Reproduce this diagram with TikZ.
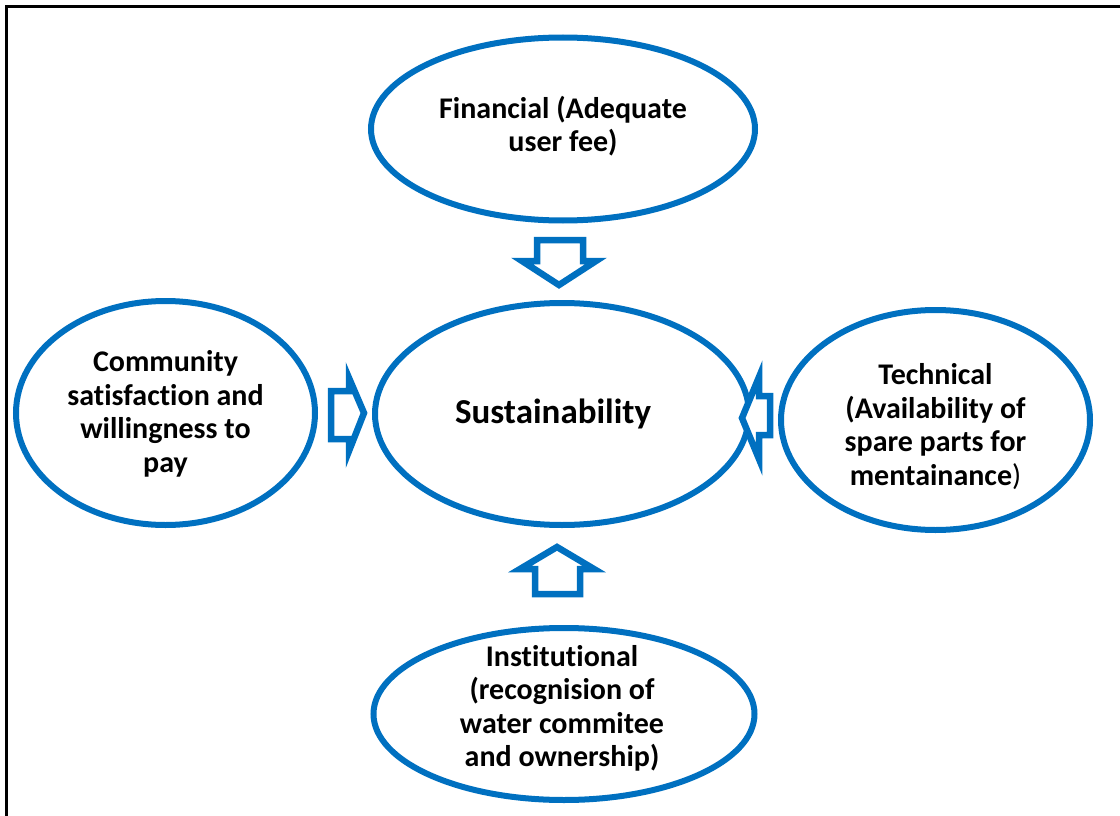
\documentclass[tikz,border=0pt]{standalone}
\usepackage{fontspec}
\setmainfont[Ligatures={NoCommon}]{Carlito}
\usetikzlibrary{shapes.geometric}
\definecolor{ppblue}{RGB}{0,112,192}

\begin{document}
\begin{tikzpicture}[x=1pt,y=-1pt,
    factor/.style={ellipse,draw=ppblue,line width=6pt,inner sep=0pt},
    factortext/.style={align=center,font=\bfseries\fontsize{30}{33.5}\selectfont},
    blockarrow/.style={draw=ppblue,fill=white,line width=6.5pt,line join=miter}]
  \useasboundingbox (0,0) rectangle (1120,816);
  \draw[line width=3pt] (6.5,816) -- (6.5,6.5) -- (1120,6.5);

  % the five ellipses
  \node[factor,minimum width=384pt,minimum height=183pt] (Fin)  at (563,129)   {};
  \node[factor,minimum width=299pt,minimum height=224pt] (Comm) at (165.5,413) {};
  \node[factor,minimum width=374pt,minimum height=222pt] (Sus)  at (562,414)   {};
  \node[factor,minimum width=309pt,minimum height=220pt] (Tech) at (935.5,420) {};
  \node[factor,minimum width=381pt,minimum height=172pt] (Inst) at (564,714)   {};

  \node[factortext,yshift=3pt] at (Fin) {Financial (Adequate\\user fee)};
  \node[factortext,yshift=-1pt] at (Comm) {Community\\satisfaction and\\willingness to\\pay};
  \node[factortext,xshift=-9pt,font=\bfseries\fontsize{35}{40}\selectfont] at (Sus) {Sustainability};
  \node[factortext,yshift=-6.5pt] at (Tech) {Technical\\(Availability of\\spare parts for\\mentainance{\mdseries)}};
  \node[factortext,xshift=-2pt,yshift=5.5pt] at (Inst) {Institutional\\(recognision of\\water commitee\\and ownership)};

  % block arrows into Sustainability
  \draw[blockarrow] (537,240) -- (583,240) -- (583,261) -- (596,261) -- (559,285)
    -- (522,261) -- (537,261) -- cycle;
  \draw[blockarrow] (535,594) -- (580,594) -- (580,569) -- (594,569) -- (557,547)
    -- (520,569) -- (535,569) -- cycle;
  \draw[blockarrow] (331,391) -- (349,391) -- (349,378) -- (364,413) -- (349,451)
    -- (349,439) -- (331,439) -- cycle;
  \draw[blockarrow] (770,396) -- (759,396) -- (759,377) -- (742,418) -- (759,459)
    -- (759,435) -- (770,435) -- cycle;
\end{tikzpicture}
\end{document}
